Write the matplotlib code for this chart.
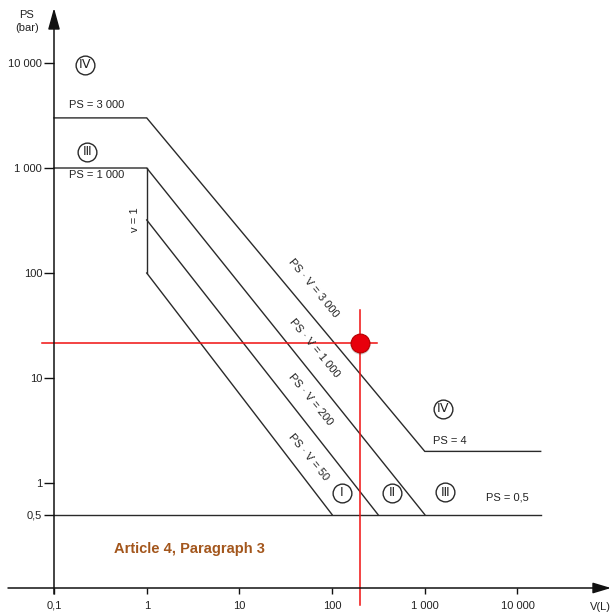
import numpy as np
import matplotlib.pyplot as plt
from matplotlib.ticker import NullLocator, FixedLocator, FixedFormatter

plt.rcParams['font.family'] = ['Liberation Sans', 'DejaVu Sans']

# boundary lines (V in litres, PS in bar)
cat4_v = [0.1, 1, 1000, 17800]
cat4_ps = [3000, 3000, 2, 2]
cat3_v = [0.1, 1, 1000]
cat3_ps = [1000, 1000, 0.5]
v1_v = [1, 1]
v1_ps = [1000, 100]
cat2_v = [1, 313]
cat2_ps = [320, 0.5]
cat1_v = [1, 100]
cat1_ps = [100, 0.5]
low_v = [0.1, 17800]
low_ps = [0.5, 0.5]

# red marker point + crosshair
point_v = 200
point_ps = 21.5
hline_v = [0.074, 305]
vline_ps = [44.5, 0.069]

xticks = [0.1, 1, 10, 100, 1000, 10000]
xlabels = ['0,1', '1', '10', '100', '1 000', '10 000']
yticks = [0.5, 1, 10, 100, 1000, 10000]
ylabels = ['0,5', '1', '10', '100', '1 000', '10 000']

W, H = 611, 613
fig = plt.figure(figsize=(W / 100, H / 100), dpi=100)
ax = fig.add_axes([0, 0, 1, 1])
ax.set_xscale('log')
ax.set_yscale('log')
ax.set_xlim(10 ** -1.583, 10 ** 5.009)
ax.set_ylim(10 ** -1.238, 10 ** 4.6)


def px(x, y):
    # pixel position of the reference image -> axes fraction
    return x / W, 1 - y / H


ink = '#2a2a2a'
lw = 1.0
for v, ps in [(cat4_v, cat4_ps), (cat3_v, cat3_ps), (v1_v, v1_ps),
              (cat2_v, cat2_ps), (cat1_v, cat1_ps), (low_v, low_ps)]:
    ax.plot(v, ps, color=ink, lw=lw, solid_joinstyle='miter')

# axes with arrows
for s in ax.spines.values():
    s.set_visible(False)
ax.spines['left'].set_position(('data', 0.1))
ax.spines['bottom'].set_position(('data', 0.1))
ax.annotate('', xy=px(54, 8), xytext=px(54, 594), xycoords='axes fraction',
            arrowprops=dict(arrowstyle='-|>,head_length=1.3,head_width=0.36',
                            color='#111', lw=1.1, shrinkA=0, shrinkB=0))
ax.annotate('', xy=px(611, 588), xytext=px(8, 588), xycoords='axes fraction',
            arrowprops=dict(arrowstyle='-|>,head_length=1.1,head_width=0.33',
                            color='#111', lw=1.1, shrinkA=0, shrinkB=0))

ax.xaxis.set_major_locator(FixedLocator(xticks))
ax.xaxis.set_major_formatter(FixedFormatter(xlabels))
ax.yaxis.set_major_locator(FixedLocator(yticks))
ax.yaxis.set_major_formatter(FixedFormatter(ylabels))
ax.xaxis.set_minor_locator(NullLocator())
ax.yaxis.set_minor_locator(NullLocator())
ax.tick_params(axis='x', direction='out', length=4.5, width=1, color='#111',
               pad=4.5, labelsize=8, labelcolor='#222')
ax.tick_params(axis='y', direction='out', length=7, width=1, color='#111',
               pad=1.5, labelsize=8, labelcolor='#222')

# red crosshair and point
ax.plot(hline_v, [point_ps, point_ps], color='#f01010', lw=1.1)
ax.plot([point_v, point_v], vline_ps, color='#f01010', lw=1.1)
ax.plot(point_v * 1.012, point_ps / 1.03, 'o', ms=14.5, color='#00000030', mec='none')
ax.plot(point_v, point_ps, 'o', ms=13.5, mfc='#e8000c', mec='#b80000', mew=0.8)

# text labels
tk = dict(color='#222', transform=ax.transAxes, ha='center', va='center')
ax.text(*px(27, 15), 'PS', fontsize=8, **tk)
ax.text(*px(27, 28), '(bar)', fontsize=8, **tk)
ax.text(*px(600, 607), 'V(L)', fontsize=8, **tk)
ax.text(*px(97, 105), 'PS = 3 000', fontsize=8, **tk)
ax.text(*px(97, 175), 'PS = 1 000', fontsize=8, **tk)
ax.text(*px(450, 441), 'PS = 4', fontsize=8, **tk)
ax.text(*px(507, 497), 'PS = 0,5', fontsize=8, **tk)
ax.text(*px(135, 220), 'v = 1', fontsize=8, rotation=90, **tk)
for (x, y), s in [((313, 288), 'PS · V = 3 000'), ((314, 348), 'PS · V = 1 000'),
                  ((310, 400), 'PS · V = 200'), ((308, 457), 'PS · V = 50')]:
    ax.text(*px(x, y), s, fontsize=8, rotation=-50.5, rotation_mode='anchor', **tk)

for (x, y), s in [((85, 65), 'Ⅳ'), ((87, 152), 'Ⅲ'), ((443, 409), 'Ⅳ'),
                  ((342, 493), 'Ⅰ'), ((392, 493), 'Ⅱ'), ((445, 492), 'Ⅲ')]:
    ax.plot(*px(x, y), 'o', ms=13.5, mfc='none', mec=ink, mew=1.0, transform=ax.transAxes)
    ax.text(*px(x, y), s, fontsize=9, family=['DejaVu Sans'], **tk)

ax.text(*px(114, 549), 'Article 4, Paragraph 3', fontsize=10.5, fontweight='bold',
        color='#a3561c', transform=ax.transAxes, ha='left', va='center')

fig.savefig('out.png', dpi=100)
